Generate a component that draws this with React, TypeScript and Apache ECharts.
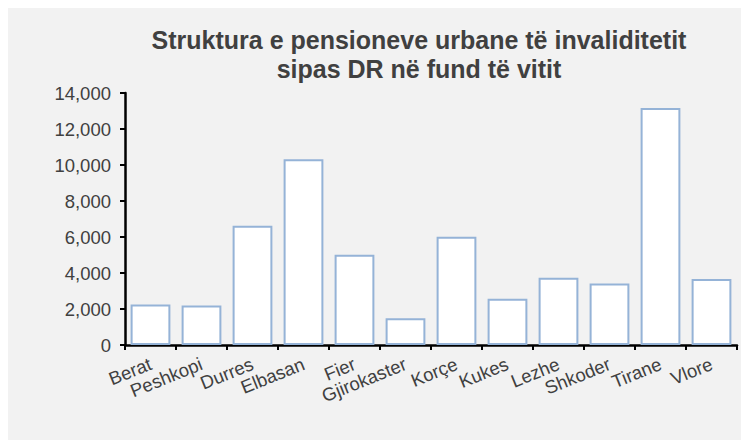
import React, { useEffect, useRef } from "react";
import * as echarts from "echarts";

const categories = ["Berat", "Peshkopi", "Durres", "Elbasan", "Fier", "Gjirokaster", "Korçe", "Kukes", "Lezhe", "Shkoder", "Tirane", "Vlore"];
const values = [2250, 2200, 6630, 10320, 5020, 1480, 6020, 2570, 3740, 3410, 13170, 3670];
const titleLines = ["Struktura e pensioneve urbane të invaliditetit", "sipas DR në fund të vitit"];
const yMin = 0;
const yMax = 14000;
const yStep = 2000;

export default function App() {
  const ref = useRef<HTMLDivElement>(null);
  useEffect(() => {
    if (!ref.current) return;
    const chart = echarts.init(ref.current, undefined, { renderer: "svg" });
    const textColor = "#404040";
    const font = "Liberation Sans, Arial, sans-serif";
    chart.setOption({
      animation: false,
      backgroundColor: "#f2f2f2",
      title: {
        text: titleLines.join("\n"),
        left: 406,
        top: 12,
        textAlign: "center",
        textStyle: {
          fontFamily: font,
          fontSize: 25,
          fontWeight: "bold",
          color: textColor,
          lineHeight: 29,
        },
      },
      grid: { left: 117, right: 4, top: 85, bottom: 95, containLabel: false },
      xAxis: {
        type: "category",
        data: categories,
        axisLine: { lineStyle: { color: "#000", width: 2.5 } },
        axisTick: { show: true, length: 5, alignWithLabel: false, lineStyle: { color: "#000", width: 2 } },
        axisLabel: {
          interval: 0,
          rotate: 22,
          margin: 18,
          fontFamily: font,
          fontSize: 18.5,
          color: textColor,
        },
      },
      yAxis: {
        type: "value",
        min: yMin,
        max: yMax,
        interval: yStep,
        splitLine: { show: false },
        axisLine: { show: true, lineStyle: { color: "#000", width: 2.5 } },
        axisTick: { show: true, length: 5, lineStyle: { color: "#000", width: 2 } },
        axisLabel: {
          margin: 14,
          fontFamily: font,
          fontSize: 18.5,
          color: textColor,
          formatter: (v: number) => v.toLocaleString("en-US"),
        },
      },
      series: [
        {
          type: "bar",
          data: values,
          barCategoryGap: "22%",
          itemStyle: { color: "#ffffff", borderColor: "#95b3d7", borderWidth: 2 },
        },
      ],
    });
    return () => chart.dispose();
  }, []);
  return (
    <div
      ref={ref}
      style={{ position: "fixed", left: 8, top: 8, width: 733, height: 432 }}
    />
  );
}
